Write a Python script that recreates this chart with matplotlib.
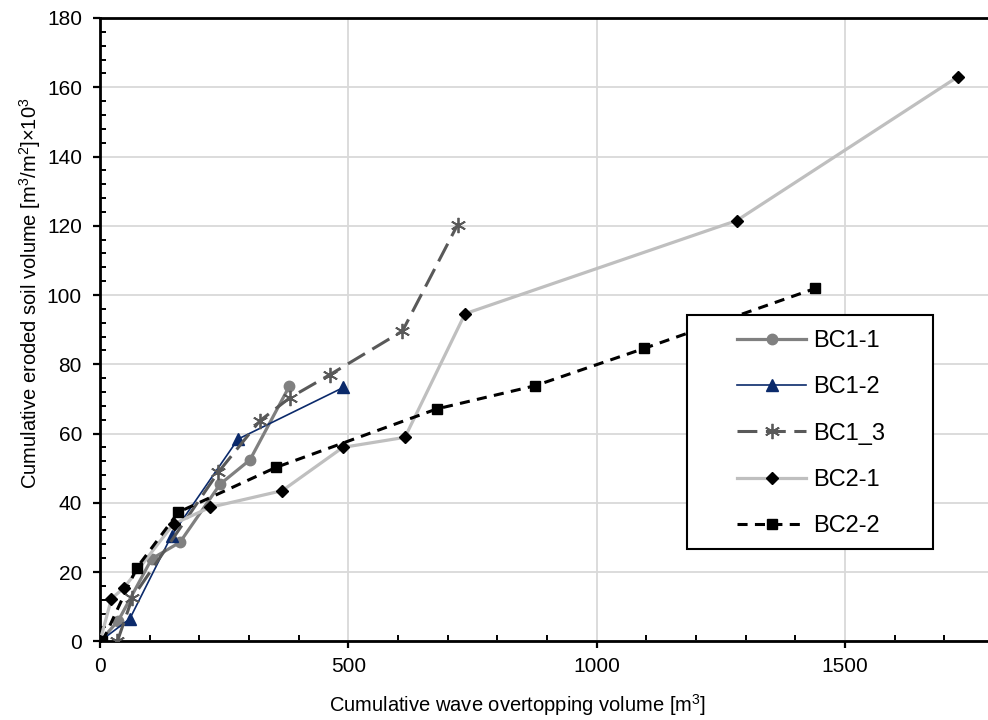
import matplotlib
matplotlib.use("Agg")
import matplotlib.pyplot as plt
from matplotlib.patches import Rectangle
from matplotlib.ticker import MultipleLocator

plt.rcParams['font.family'] = ['Liberation Sans', 'DejaVu Sans']
plt.rcParams['mathtext.fontset'] = 'custom'
plt.rcParams['mathtext.rm'] = 'Liberation Sans'
plt.rcParams['mathtext.default'] = 'regular'

# ---- data ----
bc11_x = [0, 37, 104, 161, 242, 302, 381]
bc11_y = [0, 6.0, 23.8, 28.6, 45.4, 52.4, 73.6]

bc12_x = [0, 60, 144, 278, 490]
bc12_y = [0, 6.5, 30.5, 58.4, 73.3]

bc13_x = [35, 65, 238, 322, 383, 463, 609, 720]
bc13_y = [0, 12.5, 48.8, 63.7, 70.4, 77.0, 89.6, 120.3]

bc21_x = [0, 23, 48, 148, 222, 367, 489, 614, 735, 1282, 1728]
bc21_y = [0, 12.3, 15.4, 33.9, 38.7, 43.5, 56.0, 58.9, 94.6, 121.5, 163.1]

bc22_x = [5, 74, 158, 354, 678, 876, 1096, 1440]
bc22_y = [0, 21.2, 37.3, 50.2, 67.1, 73.8, 84.6, 101.9]

x_ticks = [0, 500, 1000, 1500]
y_ticks = [0, 20, 40, 60, 80, 100, 120, 140, 160, 180]

fig = plt.figure(figsize=(9.88, 7.2), dpi=100)
ax = fig.add_axes([100/988, (720-641.3)/720, 888/988, 623.3/720])

ax.plot(bc11_x, bc11_y, color='#808080', lw=2.3, marker='o', ms=7.5,
        mfc='#808080', mec='#808080', label='BC1-1', zorder=3)
ax.plot(bc12_x, bc12_y, color='#0b2a6b', lw=1.2, marker='^', ms=8.5,
        mfc='#0b2a6b', mec='#0b2a6b', label='BC1-2', zorder=3)
ax.plot(bc13_x, bc13_y, color='#595959', lw=2.2, dashes=(6.5, 2.8),
        marker=(6, 2, 0), ms=11, mew=1.3, mec='#595959', label='BC1_3', zorder=3)
ax.plot(bc21_x, bc21_y, color='#bfbfbf', lw=2.3, marker='D', ms=6.5,
        mfc='black', mec='black', label='BC2-1', zorder=3)
ax.plot(bc22_x, bc22_y, color='black', lw=2.2, dashes=(3.3, 2.4), marker='s', ms=7,
        mfc='black', mec='black', label='BC2-2', zorder=3)

ax.set_xlim(0, 1788)
ax.set_ylim(0, 180)
ax.set_xticks(x_ticks)
ax.set_yticks(y_ticks)
ax.xaxis.set_minor_locator(MultipleLocator(100))
ax.yaxis.set_minor_locator(MultipleLocator(4))

ax.grid(True, which='major', color='#d9d9d9', lw=1.3, zorder=0)
ax.set_axisbelow(True)

for s in ['left', 'bottom', 'top']:
    ax.spines[s].set_linewidth(2.0)
    ax.spines[s].set_color('black')
ax.spines['right'].set_visible(False)

ax.tick_params(which='major', direction='out', length=5, width=1.6, labelsize=15)
ax.tick_params(axis='x', which='major', pad=6)
ax.tick_params(axis='y', which='major', pad=8)
ax.tick_params(which='minor', direction='in', length=4, width=1.4)
ax.tick_params(top=False, right=False, which='both')

ax.set_xlabel('Cumulative wave overtopping volume [m$^3$]', fontsize=14.5)
ax.set_ylabel('Cumulative eroded soil volume [m$^3$/m$^2$]×10$^3$', fontsize=14.5)
ax.xaxis.set_label_coords(0.47, -0.082)
ax.yaxis.set_label_coords(-0.064, 0.559)

# legend frame
rect = Rectangle((0.661, 0.148), 0.938-0.661, 0.5235-0.148, transform=ax.transAxes,
                 facecolor='white', edgecolor='black', lw=1.5, zorder=4)
ax.add_patch(rect)
leg = ax.legend(loc='upper left', bbox_to_anchor=(0.717, 0.4996), frameon=False,
                fontsize=17, handlelength=2.95, handletextpad=0.28, labelspacing=1.03,
                borderpad=0, borderaxespad=0)
leg.set_zorder(5)

fig.savefig('out.png', dpi=100)
